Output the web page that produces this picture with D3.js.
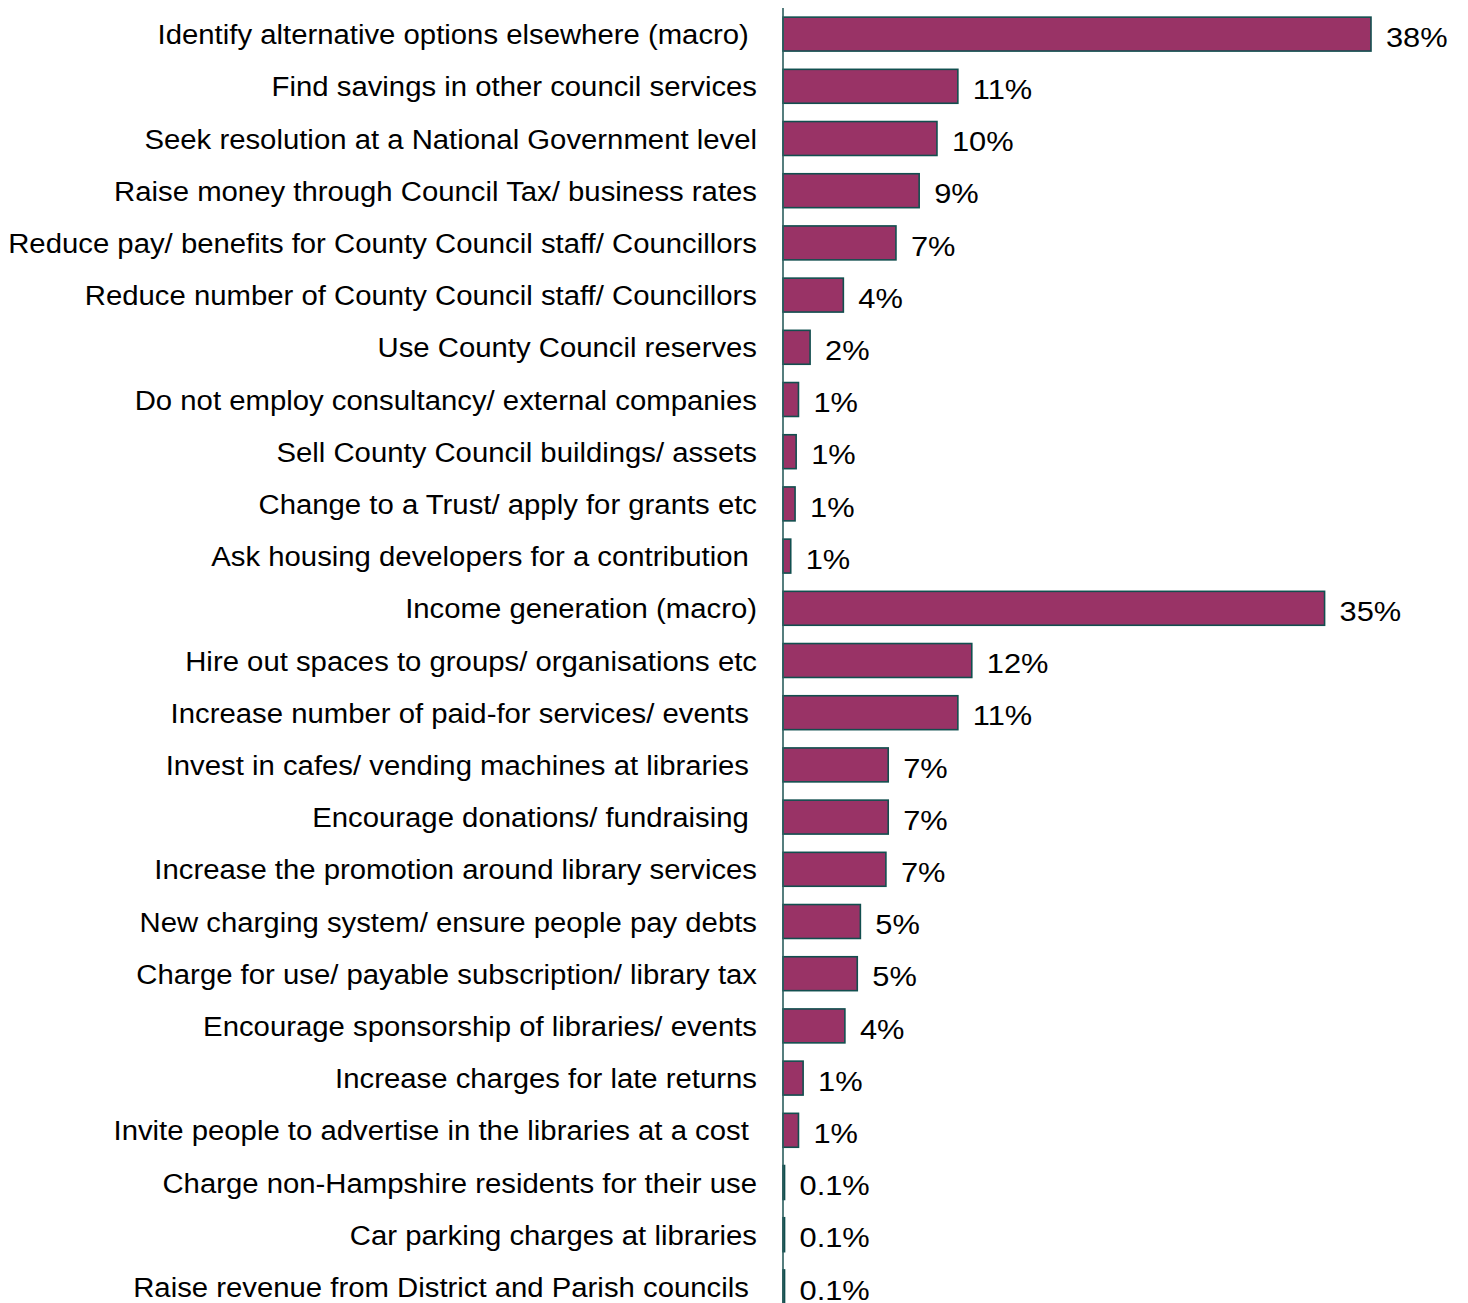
<!DOCTYPE html>
<html>
<head>
<meta charset="utf-8">
<script src="https://cdn.jsdelivr.net/npm/d3@7"></script>
<style>
  html, body { margin: 0; padding: 0; background: #ffffff; }
  svg { display: block; font-family: "Liberation Sans", Arial, sans-serif; }
  .cat-label, .value-label { font-size: 28px; fill: #000000; white-space: pre; }
</style>
</head>
<body>
<div id="chart"></div>
<script>
const WIDTH = 1468;
const HEIGHT = 1303;

const categories = [
  "Identify alternative options elsewhere (macro) ",
  "Find savings in other council services",
  "Seek resolution at a National Government level",
  "Raise money through Council Tax/ business rates",
  "Reduce pay/ benefits for County Council staff/ Councillors",
  "Reduce number of County Council staff/ Councillors",
  "Use County Council reserves",
  "Do not employ consultancy/ external companies",
  "Sell County Council buildings/ assets",
  "Change to a Trust/ apply for grants etc",
  "Ask housing developers for a contribution ",
  "Income generation (macro)",
  "Hire out spaces to groups/ organisations etc",
  "Increase number of paid-for services/ events ",
  "Invest in cafes/ vending machines at libraries ",
  "Encourage donations/ fundraising ",
  "Increase the promotion around library services",
  "New charging system/ ensure people pay debts",
  "Charge for use/ payable subscription/ library tax",
  "Encourage sponsorship of libraries/ events",
  "Increase charges for late returns",
  "Invite people to advertise in the libraries at a cost ",
  "Charge non-Hampshire residents for their use",
  "Car parking charges at libraries",
  "Raise revenue from District and Parish councils ",
];

// bar lengths (percent)
const values = [38, 11.3, 9.95, 8.8, 7.3, 3.9, 1.75, 1.0, 0.85, 0.78, 0.5,
  35, 12.2, 11.3, 6.8, 6.8, 6.65, 5.0, 4.8, 4.0, 1.3, 1.0, 0.1, 0.1, 0.1];

// labels printed next to the bars
const valueLabels = ["38%", "11%", "10%", "9%", "7%", "4%", "2%", "1%", "1%", "1%", "1%",
  "35%", "12%", "11%", "7%", "7%", "7%", "5%", "5%", "4%", "1%", "1%", "0.1%", "0.1%", "0.1%"];

const data = categories.map((c, i) => ({ category: c, value: values[i], label: valueLabels[i] }));

const AXIS_X = 783;
const STEP = 52.2;
const TOP = 8;

const svg = d3.select("#chart")
  .append("svg")
  .attr("width", WIDTH)
  .attr("height", HEIGHT);

const x = d3.scaleLinear().domain([0, 38]).range([AXIS_X, 1371]);
const y = d3.scaleBand()
  .domain(categories)
  .range([TOP, TOP + STEP * categories.length])
  .paddingInner(0.35)
  .paddingOuter(0.175);

const midY = (d) => y(d.category) + y.bandwidth() / 2;

svg.append("g")
  .attr("class", "bars")
  .selectAll("rect")
  .data(data)
  .join("rect")
  .attr("x", x(0))
  .attr("y", (d) => y(d.category))
  .attr("width", (d) => x(d.value) - x(0))
  .attr("height", y.bandwidth())
  .attr("fill", "#993366")
  .attr("stroke", "#124f4f")
  .attr("stroke-width", 1.6);

// the source font is a little wider than Liberation Sans, so stretch horizontally
svg.append("g")
  .selectAll("text")
  .data(data)
  .join("text")
  .attr("class", "cat-label")
  .attr("transform", (d) => `translate(757,${midY(d)}) scale(1.047,1)`)
  .attr("dy", "0.36em")
  .attr("text-anchor", "end")
  .text((d) => d.category);

svg.append("g")
  .selectAll("text")
  .data(data)
  .join("text")
  .attr("class", "value-label")
  .attr("transform", (d) => `translate(${x(d.value) + 15},${midY(d)}) scale(1.1,1)`)
  .attr("dy", "0.45em")
  .text((d) => d.label);

// vertical category axis
svg.append("line")
  .attr("x1", AXIS_X)
  .attr("x2", AXIS_X)
  .attr("y1", TOP)
  .attr("y2", HEIGHT)
  .attr("stroke", "#2b5e5e")
  .attr("stroke-width", 1.6);
</script>
</body>
</html>
